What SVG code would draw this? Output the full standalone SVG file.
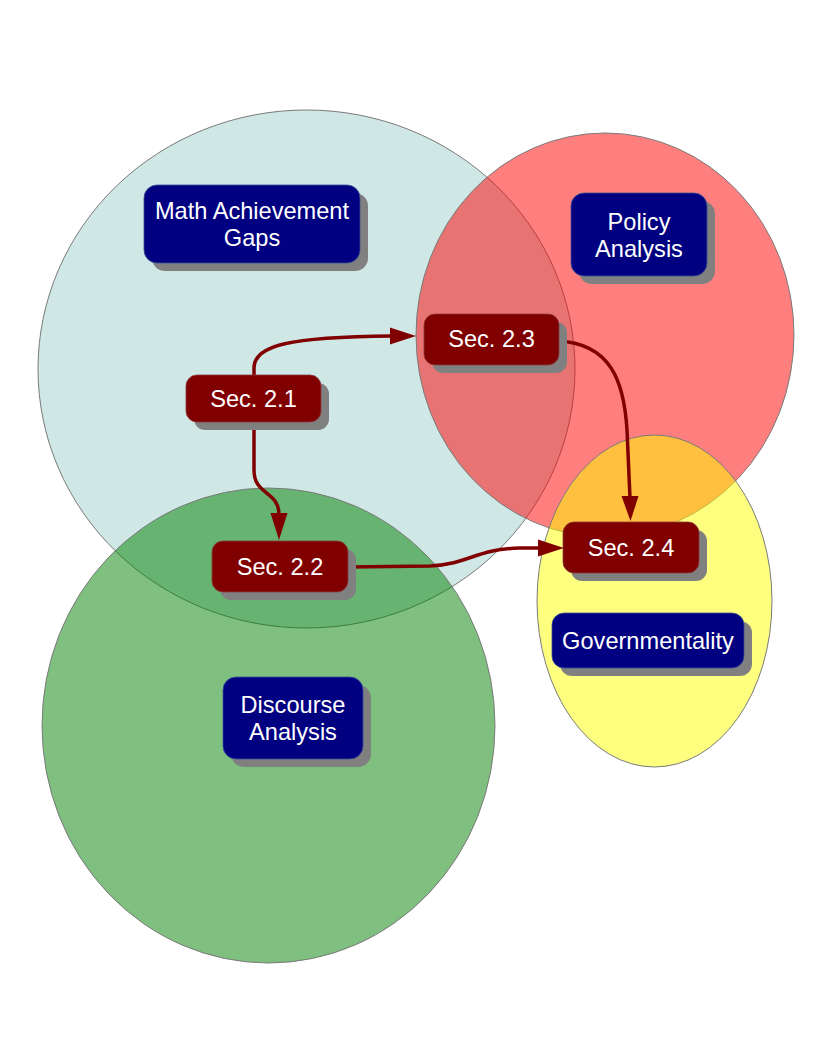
<svg xmlns="http://www.w3.org/2000/svg" width="816" height="1056" viewBox="0 0 816 1056">
<style>
.area{stroke:#7a7a7a;stroke-width:1}
.shadow{fill:#808080}
.topic{fill:#000080;stroke:#3a4f96;stroke-width:0.8}
.sec{fill:#800000;stroke:#8a3a3a;stroke-width:0.8}
.lbl{font-family:"Liberation Sans",Arial,sans-serif;font-size:23.6px;fill:#ffffff;text-anchor:middle}
.conn{fill:none;stroke:#800000;stroke-width:3.5}
.head{fill:#800000}
</style>
<rect width="816" height="1056" fill="#ffffff"/>
<g id="areas">
  <ellipse id="area-math" class="area" cx="306.5" cy="369" rx="268.5" ry="259" fill="#9fcfcb" fill-opacity="0.5"/>
  <ellipse id="area-policy" class="area" cx="605" cy="335" rx="189" ry="202" fill="#ff0000" fill-opacity="0.5"/>
  <ellipse id="area-discourse" class="area" cx="268.5" cy="725.5" rx="226.5" ry="237.5" fill="#008000" fill-opacity="0.5"/>
  <ellipse id="area-gov" class="area" cx="654.5" cy="601" rx="117.5" ry="166" fill="#ffff00" fill-opacity="0.5"/>
</g>
<g id="node-math">
  <rect class="shadow" x="152" y="193" width="216" height="78" rx="13"/>
  <rect class="topic" x="144" y="185" width="216" height="78" rx="13"/>
  <text class="lbl" x="252" y="219">Math Achievement</text>
  <text class="lbl" x="252" y="246">Gaps</text>
</g>
<g id="node-policy">
  <rect class="shadow" x="579" y="201" width="136" height="83" rx="13"/>
  <rect class="topic" x="571" y="193" width="136" height="83" rx="13"/>
  <text class="lbl" x="639" y="229.5">Policy</text>
  <text class="lbl" x="639" y="256.5">Analysis</text>
</g>
<g id="node-discourse">
  <rect class="shadow" x="231" y="685" width="140" height="82" rx="13"/>
  <rect class="topic" x="223" y="677" width="140" height="82" rx="13"/>
  <text class="lbl" x="293" y="713">Discourse</text>
  <text class="lbl" x="293" y="740">Analysis</text>
</g>
<g id="node-gov">
  <rect class="shadow" x="560" y="621" width="192" height="55" rx="12"/>
  <rect class="topic" x="552" y="613" width="192" height="55" rx="12"/>
  <text class="lbl" x="648" y="648.5">Governmentality</text>
</g>
<g id="connectors">
  <path class="conn" d="M254,375 L254,368 C254,345 290,337 392,336"/>
  <polygon class="head" points="390,327.5 416,336 390,344.5"/>
  <path class="conn" d="M254,422 L254,470 C254,496 279,490 279,515"/>
  <polygon class="head" points="270.5,513 287.5,513 279,540"/>
  <path class="conn" d="M559,341 C610,344 624,380 627,430 L630,498"/>
  <polygon class="head" points="621.5,496 638.5,496 630.5,521"/>
  <path class="conn" d="M348,567 L430,566 C470,564 475,549 520,548 L540,548"/>
  <polygon class="head" points="538,539.5 564,548 538,556.5"/>
</g>
<g id="node-sec21">
  <rect class="shadow" x="194" y="383" width="135" height="47" rx="11"/>
  <rect class="sec" x="186" y="375" width="135" height="47" rx="11"/>
  <text class="lbl" x="253.5" y="407.3">Sec. 2.1</text>
</g>
<g id="node-sec23">
  <rect class="shadow" x="432" y="322" width="135" height="51" rx="11"/>
  <rect class="sec" x="424" y="314" width="135" height="51" rx="11"/>
  <text class="lbl" x="491.5" y="347">Sec. 2.3</text>
</g>
<g id="node-sec22">
  <rect class="shadow" x="220" y="549" width="136" height="51" rx="11"/>
  <rect class="sec" x="212" y="541" width="136" height="51" rx="11"/>
  <text class="lbl" x="280" y="575">Sec. 2.2</text>
</g>
<g id="node-sec24">
  <rect class="shadow" x="571" y="530" width="136" height="51" rx="11"/>
  <rect class="sec" x="563" y="522" width="136" height="51" rx="11"/>
  <text class="lbl" x="631" y="556">Sec. 2.4</text>
</g>
</svg>
